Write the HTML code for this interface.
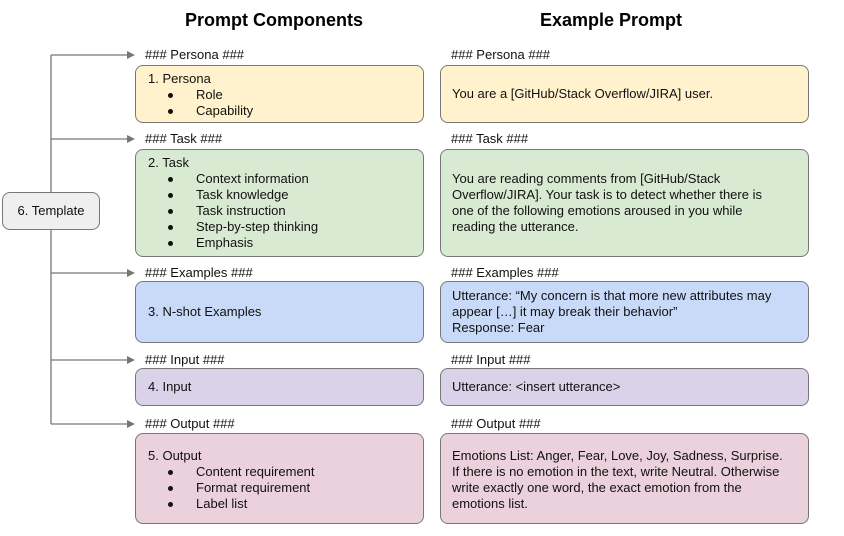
<!DOCTYPE html>
<html><head><style>
body{margin:0;width:844px;height:536px;background:#fff;font-family:"Liberation Sans",sans-serif;position:relative;overflow:hidden}
.a{position:absolute}
.h{font-weight:bold;font-size:18px;top:10px}
.lbl{font-size:13px;color:#111}
.box{position:absolute;border:1.3px solid #777;border-radius:8px;box-sizing:border-box;font-size:13px;color:#111;line-height:16px}
.y{background:#fff2cc}.g{background:#d9ead3}.b{background:#c9daf8}.p{background:#d9d2e9}.k{background:#ead1dc}
ul{margin:0;padding:0;list-style:none}
li{position:relative;padding-left:48px}
li:before{content:"";position:absolute;left:20px;top:6px;width:5px;height:5px;border-radius:50%;background:#111}
.L{left:135px;width:289px;padding:5px 12px}
.R{left:440px;width:369px;padding:5px 4px 5px 11px;white-space:nowrap}
</style></head><body>
<div class="a h" style="left:185px">Prompt Components</div>
<div class="a h" style="left:540px">Example Prompt</div>
<svg class="a" style="left:0;top:0" width="844" height="536">
<g stroke="#777" stroke-width="1.3" fill="none">
<line x1="51" y1="55" x2="51" y2="424"/>
<line x1="51" y1="55" x2="128" y2="55"/>
<line x1="51" y1="139" x2="128" y2="139"/>
<line x1="51" y1="273" x2="128" y2="273"/>
<line x1="51" y1="360" x2="128" y2="360"/>
<line x1="51" y1="424" x2="128" y2="424"/>
</g>
<g fill="#777">
<polygon points="127,51 135,55 127,59"/>
<polygon points="127,135 135,139 127,143"/>
<polygon points="127,269 135,273 127,277"/>
<polygon points="127,356 135,360 127,364"/>
<polygon points="127,420 135,424 127,428"/>
</g>
</svg>
<div class="box" style="left:2px;top:192px;width:98px;height:38px;background:#efefef;text-align:center;line-height:36px">6. Template</div>

<div class="a lbl" style="left:145px;top:47px">### Persona ###</div>
<div class="a lbl" style="left:451px;top:47px">### Persona ###</div>
<div class="box y L" style="top:65px;height:58px">1. Persona<ul><li>Role</li><li>Capability</li></ul></div>
<div class="box y R" style="top:65px;height:58px;padding-top:20px">You are a [GitHub/Stack Overflow/JIRA] user.</div>

<div class="a lbl" style="left:145px;top:131px">### Task ###</div>
<div class="a lbl" style="left:451px;top:131px">### Task ###</div>
<div class="box g L" style="top:149px;height:108px">2. Task<ul><li>Context information</li><li>Task knowledge</li><li>Task instruction</li><li>Step-by-step thinking</li><li>Emphasis</li></ul></div>
<div class="box g R" style="top:149px;height:108px;padding-top:21px">You are reading comments from [GitHub/Stack<br>Overflow/JIRA]. Your task is to detect whether there is<br>one of the following emotions aroused in you while<br>reading the utterance.</div>

<div class="a lbl" style="left:145px;top:265px">### Examples ###</div>
<div class="a lbl" style="left:451px;top:265px">### Examples ###</div>
<div class="box b L" style="top:281px;height:62px;padding-top:22px">3. N-shot Examples</div>
<div class="box b R" style="top:281px;height:62px;padding-top:6px">Utterance: “My concern is that more new attributes may<br>appear […] it may break their behavior”<br>Response: Fear</div>

<div class="a lbl" style="left:145px;top:352px">### Input ###</div>
<div class="a lbl" style="left:451px;top:352px">### Input ###</div>
<div class="box p L" style="top:368px;height:38px;padding-top:10px">4. Input</div>
<div class="box p R" style="top:368px;height:38px;padding-top:10px">Utterance: &lt;insert utterance&gt;</div>

<div class="a lbl" style="left:145px;top:416px">### Output ###</div>
<div class="a lbl" style="left:451px;top:416px">### Output ###</div>
<div class="box k L" style="top:433px;height:91px;padding-top:14px">5. Output<ul><li>Content requirement</li><li>Format requirement</li><li>Label list</li></ul></div>
<div class="box k R" style="top:433px;height:91px;padding-top:14px">Emotions List: Anger, Fear, Love, Joy, Sadness, Surprise.<br>If there is no emotion in the text, write Neutral. Otherwise<br>write exactly one word, the exact emotion from the<br>emotions list.</div>
</body></html>
